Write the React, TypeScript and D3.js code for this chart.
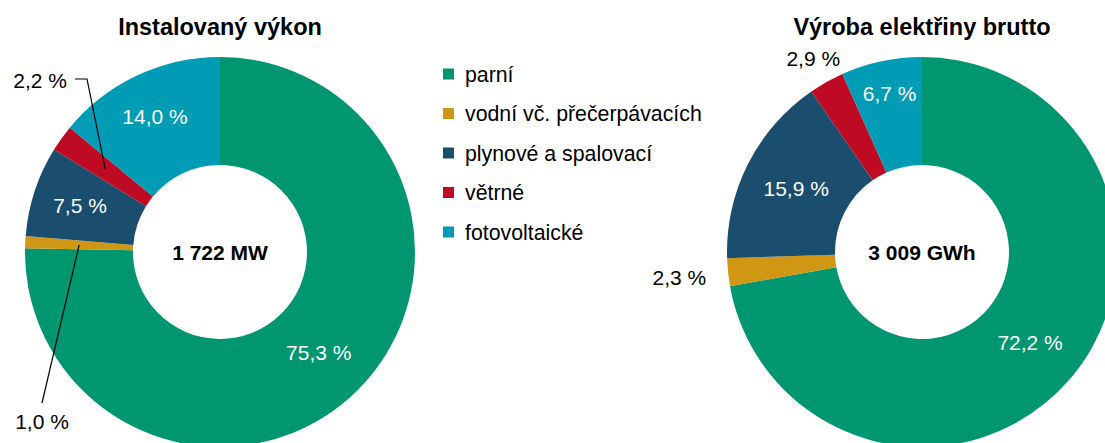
import React from "react";
import * as d3 from "d3";

// categories and colours
const categories = [
  "parní",
  "vodní vč. přečerpávacích",
  "plynové a spalovací",
  "větrné",
  "fotovoltaické",
];
const colors = ["#009670", "#CF9714", "#1A4D6E", "#BE0A23", "#009CB6"];

// shares in %
const installed = [75.3, 1.0, 7.5, 2.2, 14.0];
const production = [72.2, 2.3, 15.9, 2.9, 6.7];

const installedTitle = "Instalovaný výkon";
const productionTitle = "Výroba elektřiny brutto";
const installedTotal = "1 722 MW";
const productionTotal = "3 009 GWh";

const W = 1105;
const H = 443;
const FONT = "'Liberation Sans', Arial, sans-serif";
const outerR = 195;
const innerR = 87;

const fmt = (v: number) => v.toFixed(1).replace(".", ",") + " %";

type LabelMode =
  | { kind: "in"; dx?: number; dy?: number }
  | { kind: "out"; r: number }
  | { kind: "leader"; pts: [number, number][]; tx: number; ty: number; anchor: string };

interface DonutProps {
  cx: number;
  cy: number;
  values: number[];
  title: string;
  total: string;
  labels: LabelMode[];
}

const Donut: React.FC<DonutProps> = ({ cx, cy, values, title, total, labels }) => {
  const pie = d3
    .pie<number>()
    .sort(null)
    .value((d) => d);
  const arcs = pie(values);
  const arc = d3
    .arc<d3.PieArcDatum<number>>()
    .innerRadius(innerR)
    .outerRadius(outerR);

  return (
    <g>
      <text
        x={cx}
        y={35}
        textAnchor="middle"
        fontFamily={FONT}
        fontWeight="bold"
        fontSize={23.5}
        fill="#000"
      >
        {title}
      </text>
      <g transform={`translate(${cx},${cy})`}>
        {arcs.map((a, i) => (
          <path key={i} d={arc(a) || ""} fill={colors[i]} />
        ))}
        {arcs.map((a, i) => {
          const lab = labels[i];
          const [mx, my] = arc.centroid(a);
          const mid = (a.startAngle + a.endAngle) / 2;
          if (lab.kind === "in") {
            return (
              <text
                key={i}
                x={mx + (lab.dx || 0)}
                y={my + (lab.dy || 0)}
                dy="0.36em"
                textAnchor="middle"
                fontFamily={FONT}
                fontSize={21}
                fill="#fff"
              >
                {fmt(values[i])}
              </text>
            );
          }
          if (lab.kind === "out") {
            const x = Math.sin(mid) * lab.r;
            const y = -Math.cos(mid) * lab.r;
            return (
              <text
                key={i}
                x={x}
                y={y}
                dy="0.36em"
                textAnchor="middle"
                fontFamily={FONT}
                fontSize={21}
                fill="#000"
              >
                {fmt(values[i])}
              </text>
            );
          }
          const line = d3.line()([[mx, my], ...lab.pts.map(([x, y]) => [x - cx, y - cy] as [number, number])]);
          return (
            <g key={i}>
              <path d={line || ""} fill="none" stroke="#000" strokeWidth={1.2} />
              <text
                x={lab.tx - cx}
                y={lab.ty - cy}
                dy="0.36em"
                textAnchor={lab.anchor}
                fontFamily={FONT}
                fontSize={21}
                fill="#000"
              >
                {fmt(values[i])}
              </text>
            </g>
          );
        })}
        <text
          x={0}
          y={0}
          dy="0.36em"
          textAnchor="middle"
          fontFamily={FONT}
          fontWeight="bold"
          fontSize={21}
          fill="#000"
        >
          {total}
        </text>
      </g>
    </g>
  );
};

const App: React.FC = () => {
  const legendY = d3
    .scalePoint<string>()
    .domain(categories)
    .range([74, 232]);

  return (
    <svg
      width={W}
      height={H}
      style={{ position: "absolute", left: 0, top: 0, background: "#fff" }}
    >
      <Donut
        cx={220}
        cy={252}
        values={installed}
        title={installedTitle}
        total={installedTotal}
        labels={[
          { kind: "in" },
          { kind: "leader", pts: [[42, 403]], tx: 42, ty: 421, anchor: "middle" },
          { kind: "in", dx: -6, dy: -3 },
          { kind: "leader", pts: [[87, 79], [75, 79]], tx: 67, ty: 80, anchor: "end" },
          { kind: "in", dx: -5, dy: -8 },
        ]}
      />
      <Donut
        cx={922}
        cy={252}
        values={production}
        title={productionTitle}
        total={productionTotal}
        labels={[
          { kind: "in" },
          { kind: "out", r: 244 },
          { kind: "in" },
          { kind: "out", r: 222 },
          { kind: "in", dx: -3, dy: -21 },
        ]}
      />
      {categories.map((c, i) => (
        <g key={c} transform={`translate(443,${legendY(c)})`}>
          <rect x={0} y={-5.5} width={11} height={11} fill={colors[i]} />
          <text
            x={22}
            y={0}
            dy="0.36em"
            fontFamily={FONT}
            fontSize={21.3}
            fill="#000"
          >
            {c}
          </text>
        </g>
      ))}
    </svg>
  );
};

export default App;
